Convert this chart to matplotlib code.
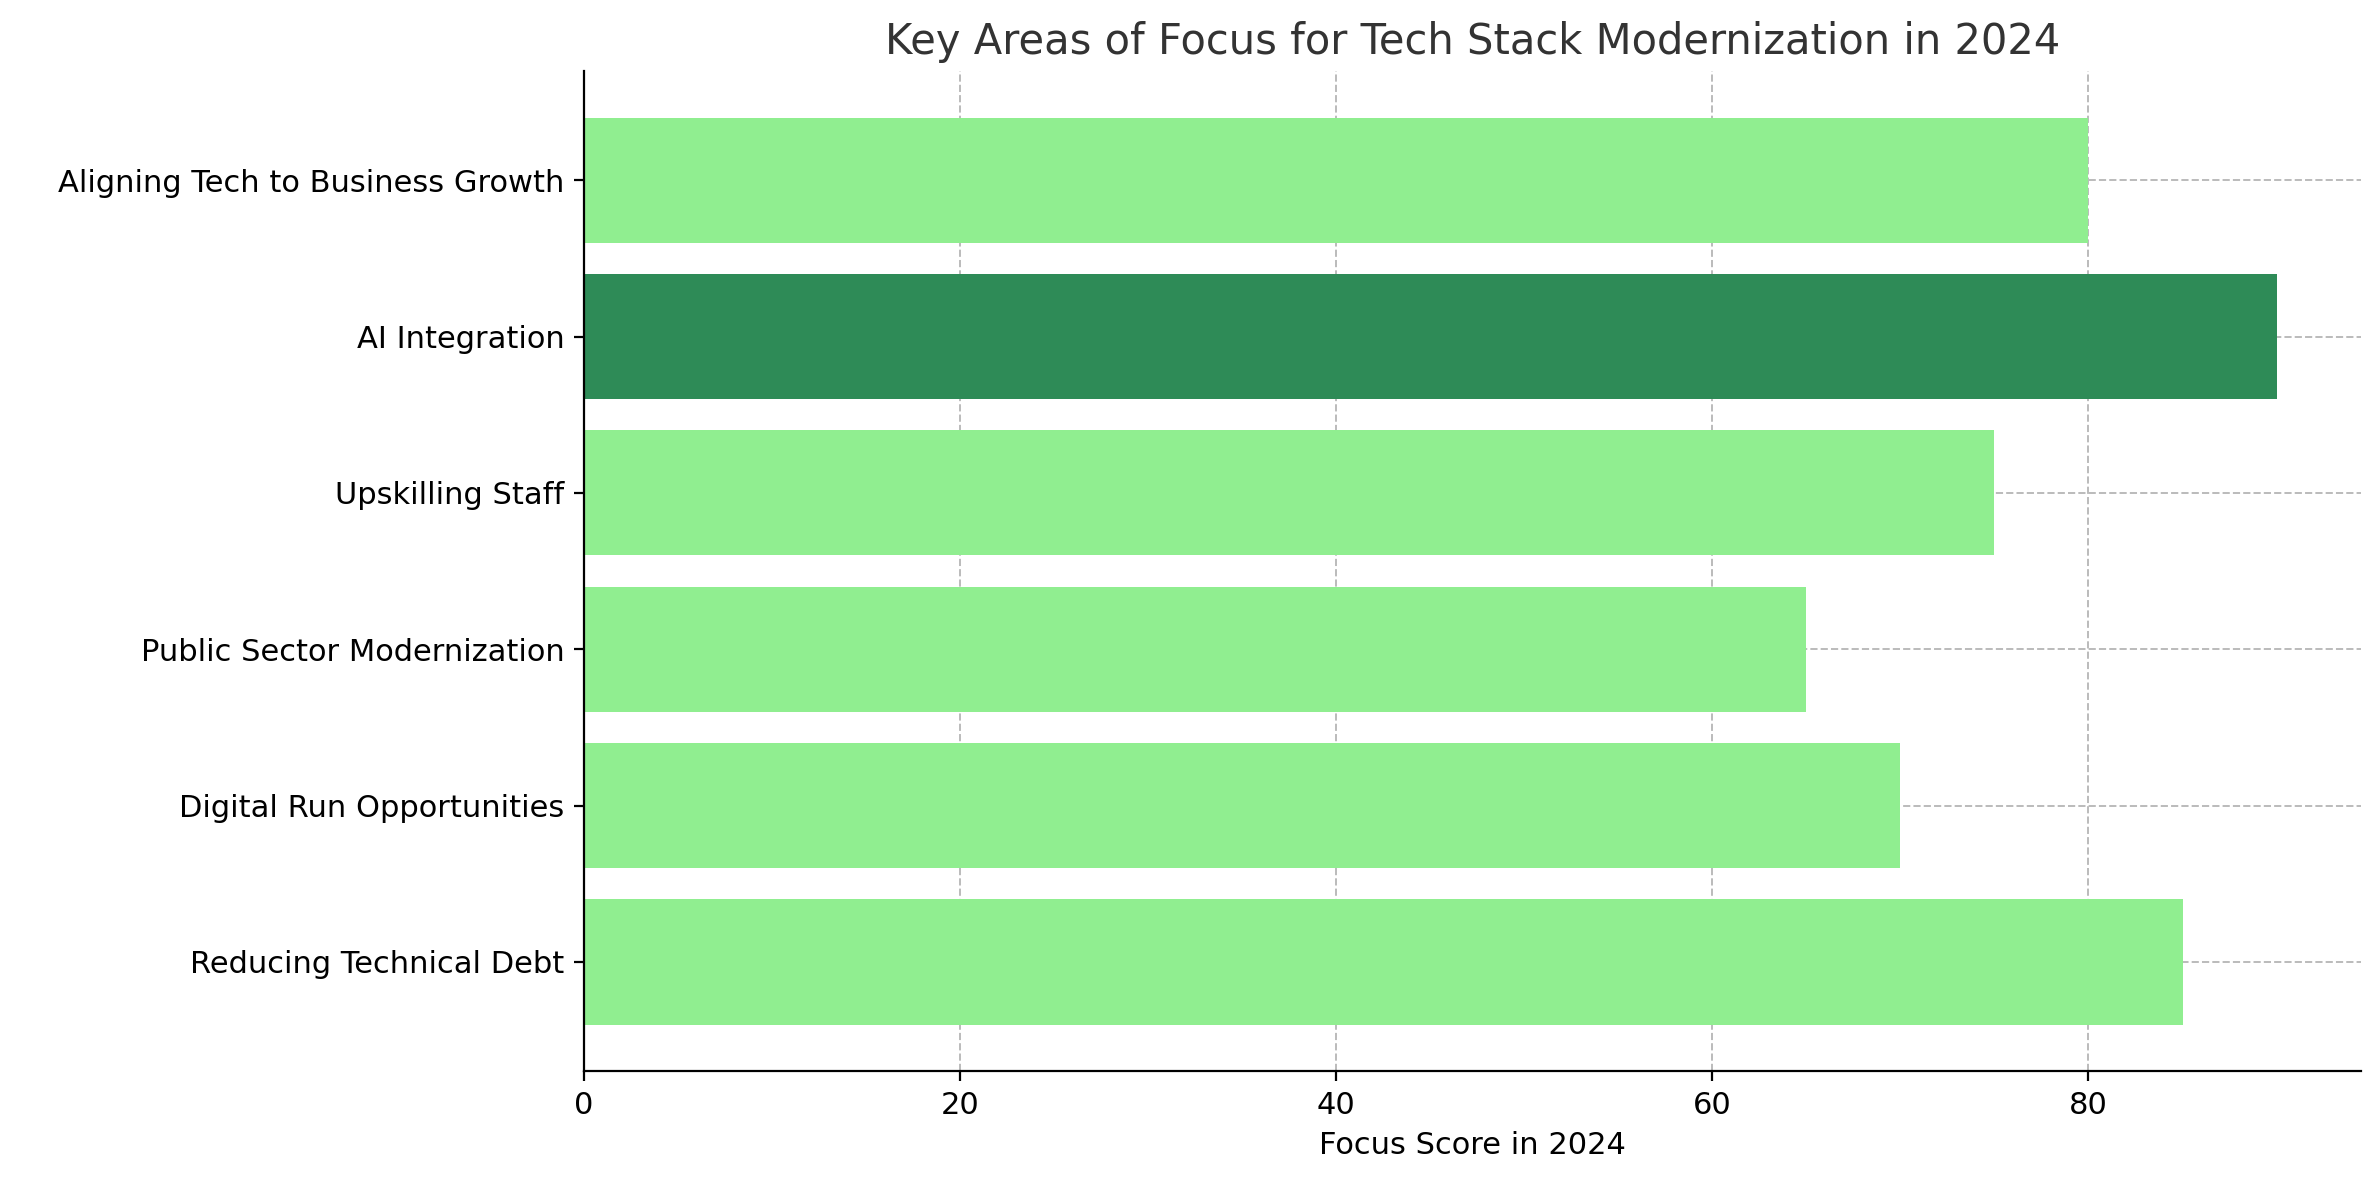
import matplotlib
matplotlib.use('Agg')
from matplotlib import pyplot as plt

areas = ['Reducing Technical Debt', 'Digital Run Opportunities', 'Public Sector Modernization',
         'Upskilling Staff', 'AI Integration', 'Aligning Tech to Business Growth']
scores = [85, 70, 65, 75, 90, 80]
colors = ['#90EE90', '#90EE90', '#90EE90', '#90EE90', '#2E8B57', '#90EE90']

fig = plt.figure(figsize=(11.895, 5.9), dpi=200)
ax = fig.add_axes([0.2455, 0.092, 0.747, 0.848])
ax.barh(areas, scores, color=colors, height=0.8, zorder=2)
ax.set_xlim(0, 94.5)
ax.set_ylim(-0.7, 5.7)
ax.grid(True, linestyle='--', color='#bbbbbb', linewidth=0.7, zorder=0)
ax.spines['top'].set_visible(False)
ax.spines['right'].set_visible(False)
ax.tick_params(labelsize=11)
ax.set_xlabel('Focus Score in 2024', fontsize=11)
ax.set_title('Key Areas of Focus for Tech Stack Modernization in 2024', fontsize=15, color='#333333')
fig.savefig('out.png')
